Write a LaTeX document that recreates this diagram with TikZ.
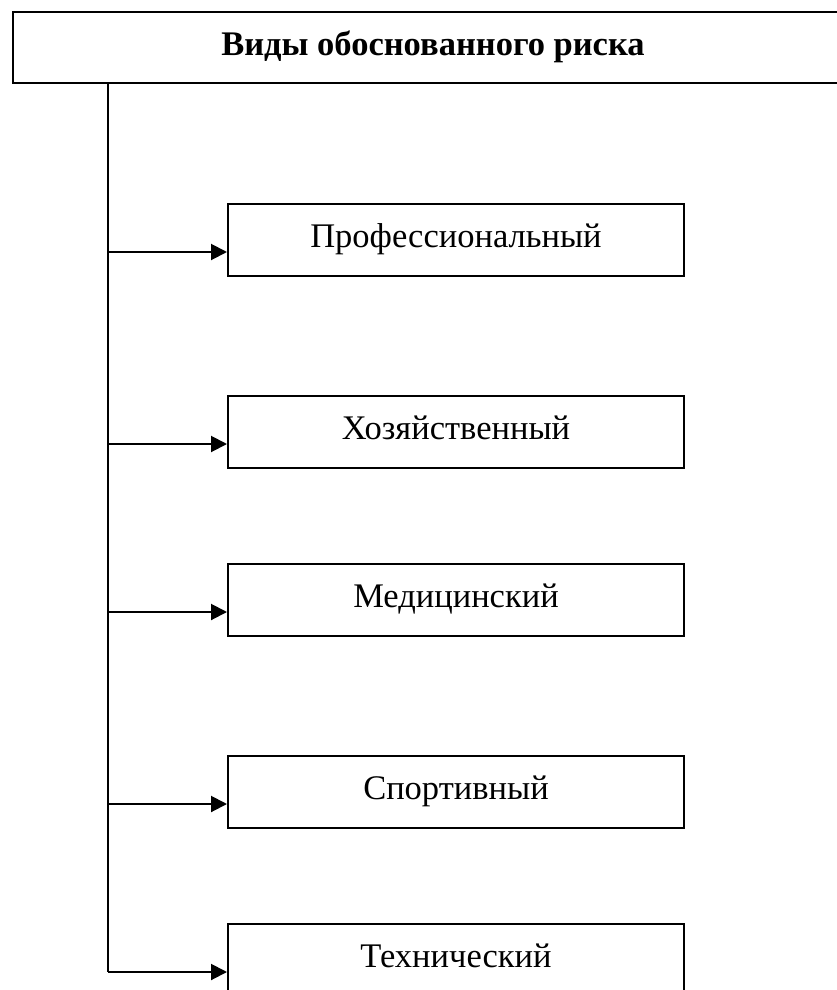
\documentclass[tikz,border=0pt]{standalone}
\usepackage{fontspec}
\setmainfont{Liberation Serif}
\usetikzlibrary{arrows.meta,calc}
\tikzset{
  lw/.style={line width=2pt},
  titlebox/.style={draw, lw, inner sep=0pt, minimum width=841pt, minimum height=70.5pt,
    text height=22.5pt, text depth=7pt, font=\fontsize{34.5}{41}\selectfont\bfseries},
  kindbox/.style={draw, lw, inner sep=0pt, minimum width=456pt, minimum height=72pt,
    text height=22.5pt, text depth=7.5pt, font=\fontsize{34.5}{41}\selectfont},
  trunkline/.style={lw},
  arr/.style={lw, -{Triangle[length=16pt, width=16pt]}}
}
\begin{document}
\begin{tikzpicture}[x=1pt,y=1pt]
\useasboundingbox (0,0) rectangle (837,-990);
\clip (0,0) rectangle (837,-990);
\fill[white] (0,0) rectangle (837,-990);
\node[titlebox] (top) at (433,-47.75) {Виды обоснованного риска};
\node[kindbox] (b1) at (456,-240) {Профессиональный};
\node[kindbox] (b2) at (456,-432) {Хозяйственный};
\node[kindbox] (b3) at (456,-600) {Медицинский};
\node[kindbox] (b4) at (456,-792) {Спортивный};
\node[kindbox] (b5) at (456,-960) {Технический};
\coordinate (trunk) at (108,0);
\foreach \i in {1,...,5}{
  \coordinate (e\i) at ($(b\i.west)+(0,-12)$);
}
\draw[trunkline] (top.south -| trunk) -- (trunk |- e5);
\foreach \i in {1,...,5}{
  \draw[arr] (trunk |- e\i) -- (e\i);
}
\end{tikzpicture}
\end{document}
